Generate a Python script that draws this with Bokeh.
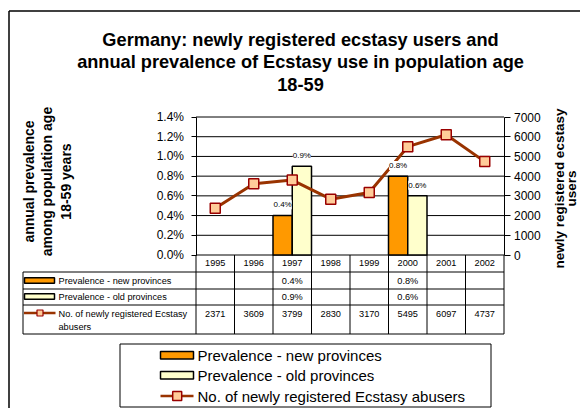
import math
from bokeh.plotting import figure
from bokeh.models import (Range1d, LinearAxis, FixedTicker, PrintfTickFormatter,
                          LabelSet, ColumnDataSource)
from bokeh.core.properties import value
from bokeh.embed import file_html
from bokeh.resources import INLINE

# ---------------- data ----------------
years = ["1995", "1996", "1997", "1998", "1999", "2000", "2001", "2002"]
prev_new = [None, None, 0.4, None, None, 0.8, None, None]   # annual prevalence, %
prev_old = [None, None, 0.9, None, None, 0.6, None, None]   # annual prevalence, %
abusers = [2371, 3609, 3799, 2830, 3170, 5495, 6097, 4737]
prev_ticks = [0.0, 0.2, 0.4, 0.6, 0.8, 1.0, 1.2, 1.4]
abuser_ticks = [0, 1000, 2000, 3000, 4000, 5000, 6000, 7000]
title_lines = ["Germany: newly registered ecstasy users and",
               "annual prevalence of Ecstasy use in population age",
               "18-59"]
left_label_lines = ["annual prevalence", "among population age", "18-59 years"]
right_label_lines = ["newly registered ecstasy", "users"]
series_names = ["Prevalence - new provinces", "Prevalence - old provinces",
                "No. of newly registered Ecstasy abusers"]

# ---------------- styles ----------------
FONT = "Liberation Sans"
C_NEW = "#FF9900"
C_OLD = "#FFFFCC"
C_LINE = "#993300"
C_MFILL = "#FFCC99"
C_MLINE = "#990000"

# ---------------- layout (canvas pixels) ----------------
W, H = 580, 408
PLOT_L, PLOT_R = 195.5, 503.5      # plot area left / right edge
Y0_PX, YTOP_PX = 254.5, 116.5      # pixel of 0 % and of top tick
N = len(years)
COLW = (PLOT_R - PLOT_L) / N
PPU = (Y0_PX - YTOP_PX) / prev_ticks[-1]      # pixels per prevalence unit
AB_SCALE = abuser_ticks[-1] / prev_ticks[-1]


def px2x(px):
    return (px - PLOT_L) / COLW - 0.5


def py2y(py):
    return (Y0_PX - py) / PPU


p = figure(width=W, height=H,
           x_range=Range1d(px2x(0), px2x(W)),
           y_range=Range1d(py2y(H), py2y(0)),
           output_backend="svg", toolbar_location=None, x_axis_location=None,
           y_axis_location=None, title=None, min_border=0)
p.grid.grid_line_color = None
p.outline_line_color = None
p.background_fill_color = "white"
p.border_fill_color = "white"
p.extra_y_ranges = {"ab": Range1d(py2y(H) * AB_SCALE, py2y(0) * AB_SCALE),
                    "py": Range1d(H, 0)}
p.extra_x_ranges = {"px": Range1d(0, W)}
PXK = dict(x_range_name="px", y_range_name="py")

# ---------------- axes ----------------
la = LinearAxis(ticker=FixedTicker(ticks=prev_ticks), formatter=PrintfTickFormatter(format="%.1f%%"),
                bounds=(prev_ticks[0], prev_ticks[-1]), fixed_location=-0.5)
ra = LinearAxis(y_range_name="ab", ticker=FixedTicker(ticks=abuser_ticks),
                bounds=(abuser_ticks[0], abuser_ticks[-1]), fixed_location=N - 0.5)
for ax, out, so in ((la, 5, 7), (ra, 6, 4)):
    ax.major_tick_out = out
    ax.major_tick_in = 0
    ax.minor_tick_out = 0
    ax.minor_tick_in = 0
    ax.axis_line_color = "black"
    ax.major_tick_line_color = "black"
    ax.major_label_text_font = FONT
    ax.major_label_text_font_size = "12px"
    ax.major_label_text_color = "black"
    ax.major_label_standoff = so
p.add_layout(la, "left")
p.add_layout(ra, "right")

# horizontal gridlines at the prevalence ticks
p.segment(x0=[-0.5] * len(prev_ticks), y0=prev_ticks, x1=[N - 0.5] * len(prev_ticks),
          y1=prev_ticks, line_color="black", line_width=1)

# ---------------- bars ----------------
nx = [i - 0.25 for i, v in enumerate(prev_new) if v is not None]
ny = [v for v in prev_new if v is not None]
ox = [i + 0.25 for i, v in enumerate(prev_old) if v is not None]
oy = [v for v in prev_old if v is not None]
p.vbar(x=nx, top=ny, bottom=0, width=0.5, fill_color=C_NEW, line_color="black", line_width=1.5)
p.vbar(x=ox, top=oy, bottom=0, width=0.5, fill_color=C_OLD, line_color="black", line_width=1.5)

# ---------------- line ----------------
idx = list(range(N))
p.line(idx, abusers, y_range_name="ab", line_color=C_LINE, line_width=3)
p.scatter(idx, abusers, y_range_name="ab", marker="square", size=10,
          fill_color=C_MFILL, line_color=C_MLINE, line_width=1.5)

# bar value labels
lab_src = ColumnDataSource(dict(x=nx + ox, y=ny + oy, t=[f"{v:.1f}%" for v in ny + oy]))
p.add_layout(LabelSet(x="x", y="y", text="t", source=lab_src, y_offset=10.7,
                      text_align="center", text_baseline="middle",
                      text_font=value(FONT), text_font_size=value("8px"), text_color="black",
                      background_fill_color="white"))

# ---------------- title / axis titles ----------------
p.text(x=[300] * 3, y=[39, 61.5, 84], text=title_lines, text_align="center",
       text_baseline="alphabetic", text_font=value(FONT), text_font_style="bold",
       text_font_size=value("18.2px"), text_color="black", **PXK)
p.text(x=[28.3, 46.7, 65.5], y=[181] * 3, text=left_label_lines, angle=math.pi / 2,
       text_align="center", text_baseline="middle", text_font=value(FONT),
       text_font_style="bold", text_font_size=value("14px"), text_color="black", **PXK)
p.text(x=[558.5, 571], y=[188] * 2, text=right_label_lines, angle=math.pi / 2,
       text_align="center", text_baseline="middle", text_font=value(FONT),
       text_font_style="bold", text_font_size=value("13.5px"), text_color="black", **PXK)

# outer frame (top and left edges)
p.segment(x0=[8.5, 8.5], y0=[10.5, 10.5], x1=[W + 5, 8.5], y1=[10.5, H + 5],
          line_color="black", line_width=1.5, **PXK)

# ---------------- data table ----------------
TL = 22.5
ROWS = [271.5, 288.5, 304.5, 333.5]
col_edges = [PLOT_L + i * COLW for i in range(N + 1)]
col_mid = [PLOT_L + (i + 0.5) * COLW for i in range(N)]

hy = ROWS
p.segment(x0=[TL] * len(hy), y0=hy, x1=[PLOT_R] * len(hy), y1=hy,
          line_color="black", line_width=1, **PXK)
vx = [TL] + col_edges
vy0 = [ROWS[0]] + [Y0_PX] * len(col_edges)
vy1 = [ROWS[-1]] * len(vx)
p.segment(x0=vx, y0=vy0, x1=vx, y1=vy1, line_color="black", line_width=1, **PXK)

tkw = dict(text_font=value(FONT), text_font_size=value("9.2px"), text_color="black",
           text_baseline="middle", **PXK)
p.text(x=col_mid, y=[262.5] * N, text=years, text_align="center", **tkw)
r1 = [f"{v:.1f}%" if v is not None else "" for v in prev_new]
r2 = [f"{v:.1f}%" if v is not None else "" for v in prev_old]
r3 = [str(v) for v in abusers]
p.text(x=col_mid, y=[280] * N, text=r1, text_align="center", **tkw)
p.text(x=col_mid, y=[296.3] * N, text=r2, text_align="center", **tkw)
p.text(x=col_mid, y=[313.3] * N, text=r3, text_align="center", **tkw)
p.text(x=[58] * 4, y=[280, 296.3, 313.3, 326.7],
       text=[series_names[0], series_names[1], "No. of newly registered Ecstasy", "abusers"],
       text_align="left", **tkw)
# row keys
p.rect(x=[39, 39], y=[280, 296], width=30, height=5.3, fill_color=[C_NEW, C_OLD],
       line_color="black", line_width=1.5, **PXK)
p.segment(x0=[23.5], y0=[312.5], x1=[55], y1=[312.5], line_color=C_LINE, line_width=2.5, **PXK)
p.scatter(x=[39.5], y=[312.5], marker="square", size=6, fill_color=C_MFILL,
          line_color=C_MLINE, line_width=1.2, **PXK)

# ---------------- bottom legend ----------------
p.quad(left=[119.5], right=[490.5], top=[343.5], bottom=[406.5], fill_color="white",
       line_color="black", line_width=1, **PXK)
p.rect(x=[176.5, 176.5], y=[354.7, 374.7], width=33, height=7.6, fill_color=[C_NEW, C_OLD],
       line_color="black", line_width=1.5, **PXK)
p.segment(x0=[160], y0=[395.5], x1=[193], y1=[395.5], line_color=C_LINE, line_width=2.5, **PXK)
p.scatter(x=[176.7], y=[395.5], marker="square", size=9, fill_color=C_MFILL,
          line_color=C_MLINE, line_width=1.5, **PXK)
p.text(x=[197] * 3, y=[355, 375, 395.5], text=series_names, text_align="left",
       text_font=value(FONT), text_font_size=value("15px"), text_color="black",
       text_baseline="middle", **PXK)

open("out.html", "w").write(file_html(p, INLINE))
